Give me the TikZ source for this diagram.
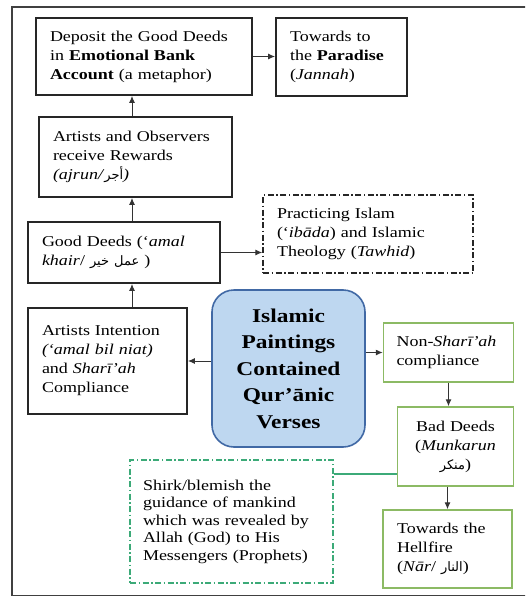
\documentclass[tikz,border=0pt]{standalone}
\usepackage{fontspec}
\setmainfont[FakeStretch=1.2]{Liberation Serif}
\newfontfamily\arabicfont[Script=Arabic]{DejaVu Sans}
\TeXXeTstate=1
\usetikzlibrary{arrows.meta}

\definecolor{leafgreen}{RGB}{140,186,100}
\definecolor{tealgreen}{RGB}{60,170,120}
\definecolor{skyfill}{RGB}{190,215,240}
\definecolor{skyline}{RGB}{65,105,165}

\newcommand{\arabictext}[1]{{\arabicfont\fontsize{13}{14}\selectfont\beginR #1\endR}}

\begin{document}
\begin{tikzpicture}[x=1pt, y=-1pt,
  every node/.style={rectangle, inner xsep=14pt, inner ysep=3pt, align=left, font=\fontsize{15}{19}\selectfont},
  blackbox/.style={draw=black!85, line width=1.8pt},
  greenbox/.style={draw=leafgreen, line width=1.5pt},
  dashdot/.style={dash pattern=on 6pt off 2.5pt on 1.5pt off 2.5pt, line width=1.4pt},
  arrow/.style={-{Latex[length=7pt,width=6pt]}, draw=black!80, line width=1pt}]

  \useasboundingbox (0,0) rectangle (525,597);
  \clip (0,0) rectangle (525,597);

  % Nodes
  \node[blackbox, text width=188pt, minimum height=77pt] (deposit) at (144,56.5)
    {Deposit the Good Deeds\\ in \textbf{Emotional Bank}\\ \textbf{Account} (a metaphor)};
  \node[blackbox, text width=103pt, minimum height=78pt] (paradise) at (341.5,57)
    {Towards to\\ the \textbf{Paradise}\\ (\textit{Jannah})};
  \node[blackbox, text width=165pt, minimum height=80pt] (rewards) at (135.5,157)
    {Artists and Observers\\ receive Rewards\\ \textit{(ajrun/}\arabictext{أجر}\textit{)}};
  \node[blackbox, text width=164pt, minimum height=61pt] (good) at (124,252.5)
    {Good Deeds (‘\textit{amal}\\ \textit{khair}/ \arabictext{عمل خير} )};
  \node[draw=black!85, dashdot, text width=182pt, minimum height=78pt] (practice) at (368,234)
    {Practicing Islam\\ (‘\textit{ibāda}) and Islamic\\ Theology (\textit{Tawhid})};
  \node[blackbox, text width=131pt, minimum height=106pt] (intent) at (107.5,361)
    {Artists Intention\\ \textit{(‘amal bil niat)}\\ and \textit{Sharī’ah}\\ Compliance};
  \node[draw=skyline, fill=skyfill, line width=1.6pt, rounded corners=22pt, inner xsep=4pt,
    text width=145pt, minimum height=157pt, align=center,
    font=\fontsize{19.5}{26.5}\selectfont\bfseries] (central) at (288.5,368.5)
    {Islamic\\ Paintings\\ Contained\\ Qur’ānic\\ Verses};
  \node[greenbox, inner xsep=13pt, text width=104pt, minimum height=59pt] (nonshar) at (448.5,352.5)
    {Non-\textit{Sharī’ah}\\ compliance};
  \node[greenbox, inner xsep=8pt, text width=100pt, minimum height=79pt, align=center] (bad) at (455.5,446.5)
    {Bad Deeds\\ (\textit{Munkarun}\\ \arabictext{منكر})};
  \node[greenbox, text width=101pt, minimum height=78pt] (hell) at (447.5,549)
    {Towards the\\ Hellfire\\ (\textit{Nār}/ \arabictext{النار})};
  \node[draw=tealgreen, dashdot, inner xsep=13pt, text width=177pt, minimum height=123pt,
    font=\fontsize{15}{17.5}\selectfont] (shirk) at (231.5,521.5)
    {Shirk/blemish the\\ guidance of mankind\\ which was revealed by\\ Allah (God) to His\\ Messengers (Prophets)};

  \coordinate (col) at (132,0);
  \coordinate (link) at (0,474);

  % Arrows
  \draw[arrow] (rewards.north -| col) -- (deposit.south -| col);
  \draw[arrow] (deposit) -- (deposit -| paradise.west);
  \draw[arrow] (good.north -| col) -- (rewards.south -| col);
  \draw[arrow] (intent.north -| col) -- (good.south -| col);
  \draw[arrow] (good.east) -- (good.east -| practice.west);
  \draw[arrow] (intent.east -| central.west) -- (intent.east);
  \draw[arrow] (central.east |- nonshar.west) -- (nonshar.west);
  \draw[arrow] (nonshar) -- (nonshar |- bad.north);
  \draw[arrow] (hell |- bad.south) -- (hell.north);
  \draw[tealgreen, line width=1.4pt] (shirk.east |- link) -- (bad.west |- link);

  % Frame
  \draw[black!75, line width=1.6pt] (12,7) rectangle (540,595.5);

\end{tikzpicture}
\end{document}
